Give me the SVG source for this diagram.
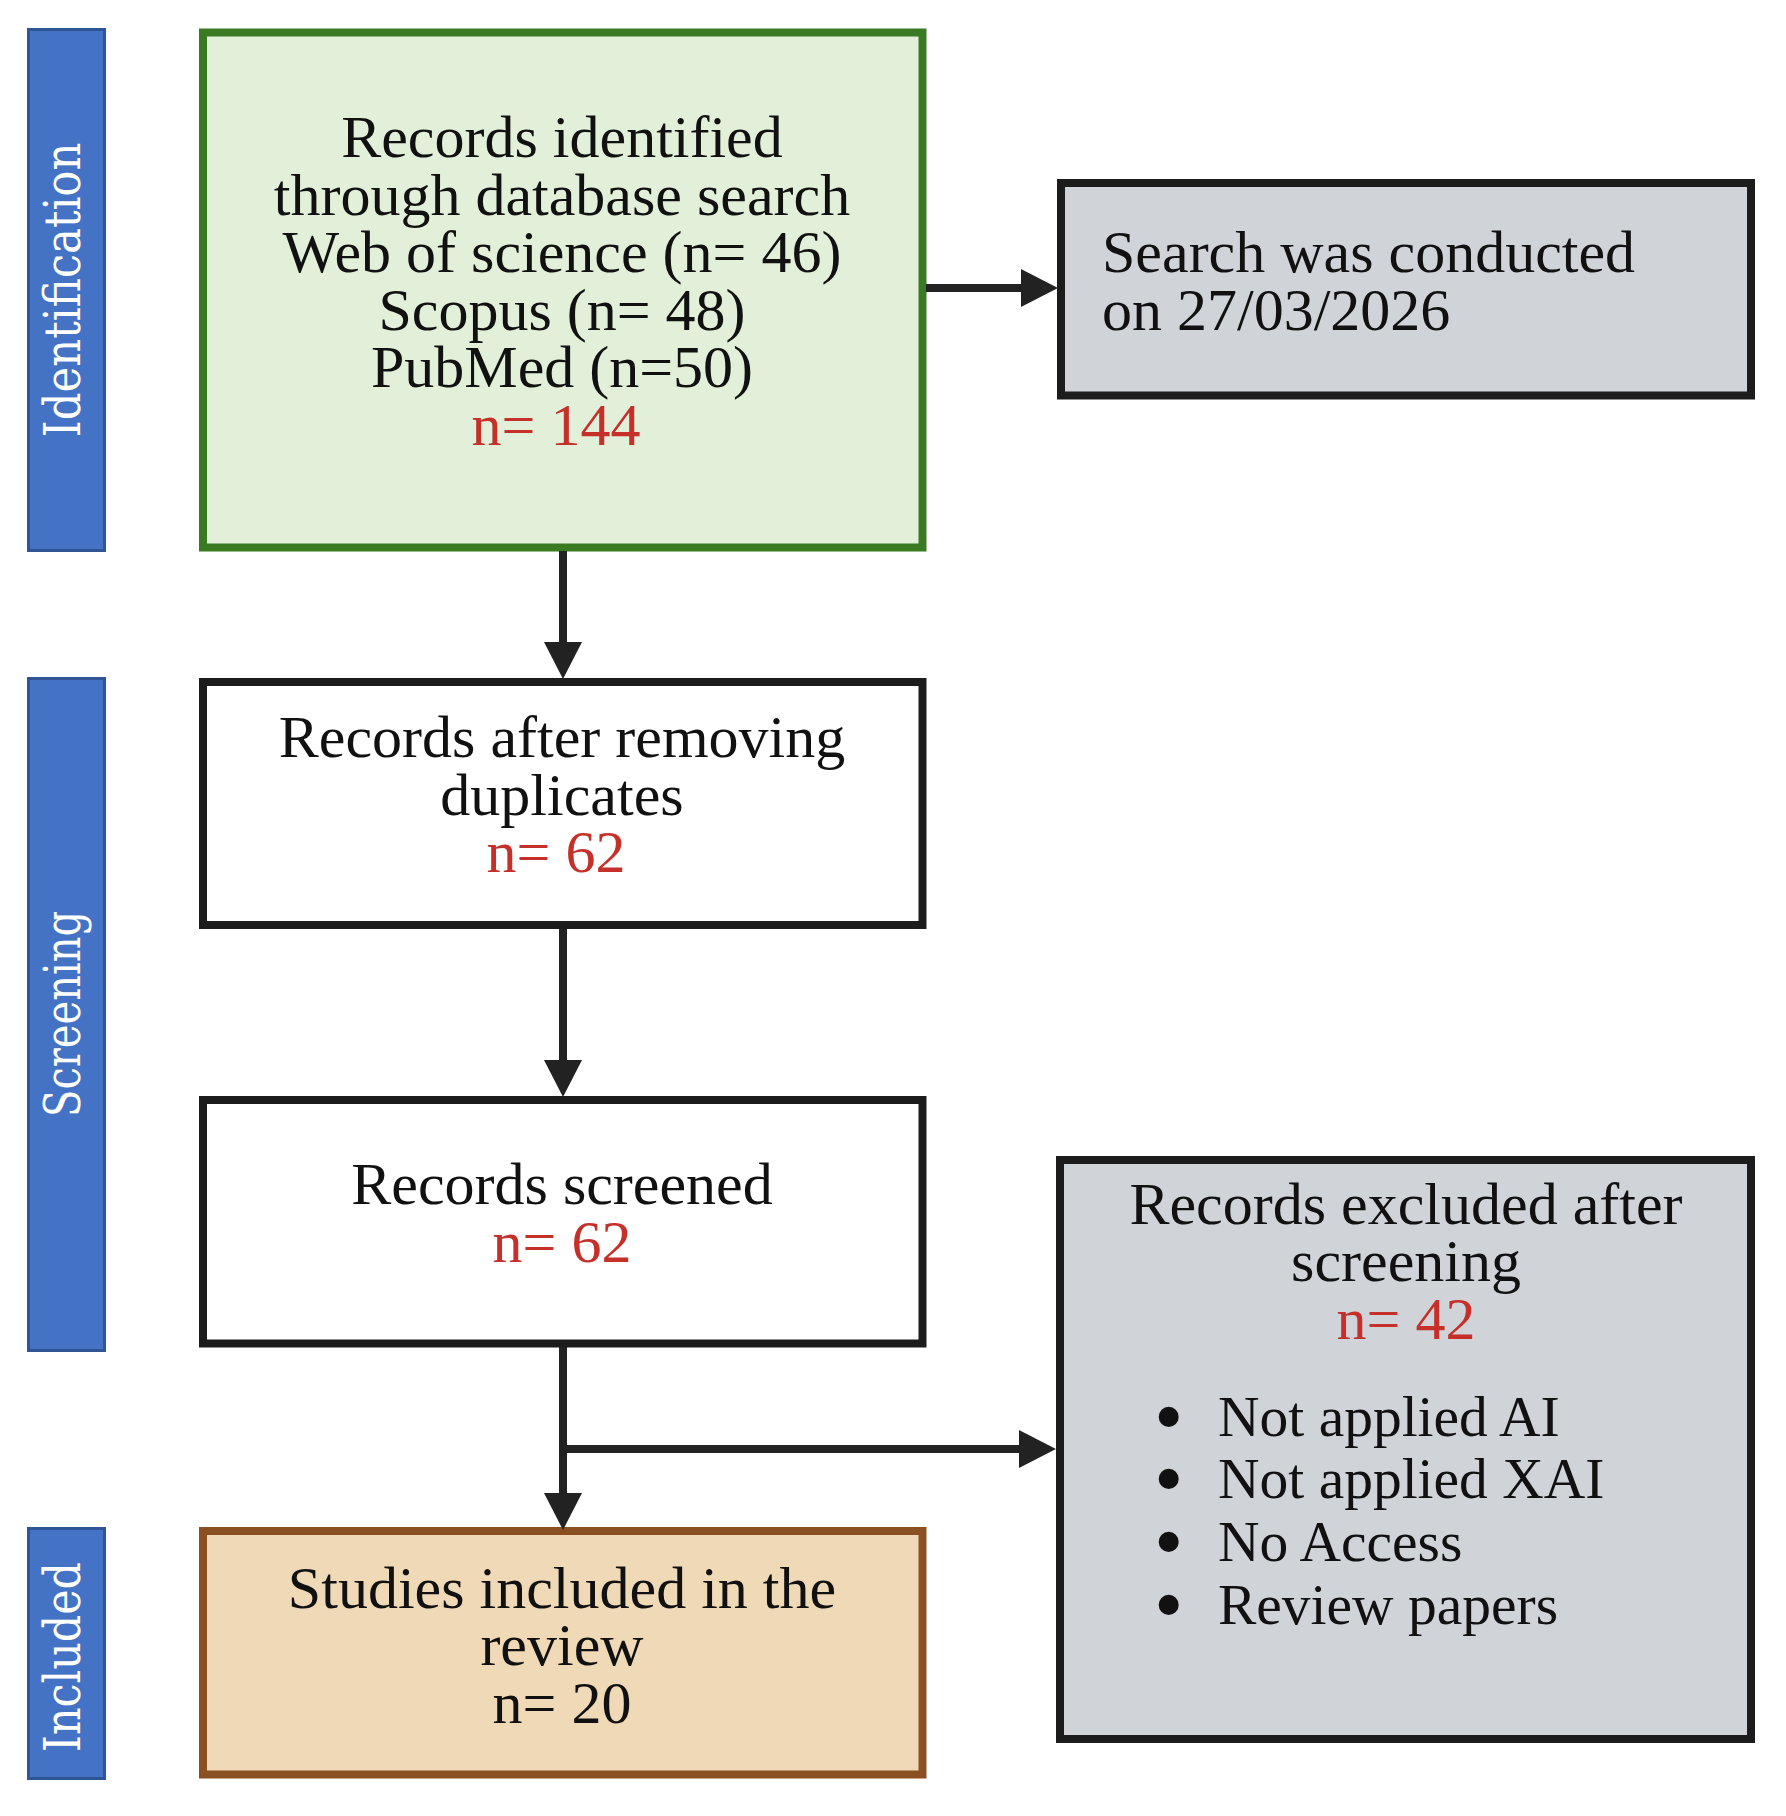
<svg xmlns="http://www.w3.org/2000/svg" width="1786" height="1816" viewBox="0 0 1786 1816">
<style>
.t{font-family:"Liberation Serif","Times New Roman",serif;font-size:60px;fill:#111;text-anchor:middle}
.tl{text-anchor:start}
.r{fill:#c5302b}
.b{font-size:57.5px}
.bu{font-size:84px}
.side{fill:#4472c4;stroke:#2f5597;stroke-width:3}
.sl{font-family:"DejaVu Serif",serif;font-size:50px;fill:#fff;text-anchor:middle}
.box{stroke-width:8;stroke-linejoin:miter}
.con{stroke:#222;stroke-width:8;fill:none}
</style>
<defs>
<marker id="ah" markerUnits="userSpaceOnUse" markerWidth="38" markerHeight="38" viewBox="0 0 36 37" refX="0" refY="18.5" orient="auto">
<path d="M0,0 L36,18.5 L0,37 Z" fill="#222"/>
</marker>
</defs>
<rect width="1786" height="1816" fill="#fff"/>
<g id="phase-identification">
<rect class="side" x="28.5" y="29.5" width="76" height="521"/>
<text class="sl" transform="translate(80,290) rotate(-90)" textLength="295" lengthAdjust="spacingAndGlyphs">Identification</text>
</g>
<g id="phase-screening">
<rect class="side" x="28.5" y="678.5" width="76" height="672"/>
<text class="sl" transform="translate(80,1014) rotate(-90)" textLength="206" lengthAdjust="spacingAndGlyphs">Screening</text>
</g>
<g id="phase-included">
<rect class="side" x="28.5" y="1528.5" width="76" height="250"/>
<text class="sl" transform="translate(80,1657) rotate(-90)" textLength="190" lengthAdjust="spacingAndGlyphs">Included</text>
</g>
<g id="records-identified">
<rect class="box" x="203" y="32.5" width="719.5" height="515" fill="#e2f0d9" stroke="#3a7a22"/>
<text class="t"><tspan x="562" y="157">Records identified</tspan><tspan x="562" y="214.5">through database search</tspan><tspan x="562" y="272">Web of science (n= 46)</tspan><tspan x="562" y="329.5">Scopus (n= 48)</tspan><tspan x="562" y="387">PubMed (n=50)</tspan><tspan class="r" x="556" y="444.5">n= 144</tspan></text>
</g>
<g id="search-date">
<rect class="box" x="1061" y="183" width="690" height="212.5" fill="#d0d4d9" stroke="#1c1c1c"/>
<text class="t tl"><tspan x="1102" y="272">Search was conducted</tspan><tspan x="1102" y="330">on 27/03/2026</tspan></text>
</g>
<g id="records-after-duplicates">
<rect class="box" x="203" y="682" width="719.5" height="243" fill="#fff" stroke="#1c1c1c"/>
<text class="t"><tspan x="562" y="757">Records after removing</tspan><tspan x="562" y="815">duplicates</tspan><tspan class="r" x="556" y="872">n= 62</tspan></text>
</g>
<g id="records-screened">
<rect class="box" x="203" y="1100" width="719.5" height="243.5" fill="#fff" stroke="#1c1c1c"/>
<text class="t"><tspan x="562" y="1204">Records screened</tspan><tspan class="r" x="562" y="1262">n= 62</tspan></text>
</g>
<g id="records-excluded">
<rect class="box" x="1060" y="1160" width="691" height="579" fill="#d0d4d9" stroke="#1c1c1c"/>
<text class="t"><tspan x="1406" y="1224">Records excluded after</tspan><tspan x="1406" y="1281">screening</tspan><tspan class="r" x="1406" y="1339">n= 42</tspan></text>
<text class="t tl b"><tspan class="bu" x="1154" y="1445">•</tspan><tspan x="1218" y="1436">Not applied AI</tspan><tspan class="bu" x="1154" y="1507">•</tspan><tspan x="1218" y="1498">Not applied XAI</tspan><tspan class="bu" x="1154" y="1570">•</tspan><tspan x="1218" y="1561">No Access</tspan><tspan class="bu" x="1154" y="1633">•</tspan><tspan x="1218" y="1624">Review papers</tspan></text>
</g>
<g id="studies-included">
<rect class="box" x="203" y="1531" width="719.5" height="243.5" fill="#f0d9b6" stroke="#8b5022"/>
<text class="t"><tspan x="562" y="1608">Studies included in the</tspan><tspan x="562" y="1665">review</tspan><tspan x="562" y="1723">n= 20</tspan></text>
</g>
<g id="connectors">
<path class="con" d="M563,551 V642" marker-end="url(#ah)"/>
<path class="con" d="M926,288 H1021" marker-end="url(#ah)"/>
<path class="con" d="M563,929 V1060" marker-end="url(#ah)"/>
<path class="con" d="M563,1347 V1493" marker-end="url(#ah)"/>
<path class="con" d="M559,1449 H1019" marker-end="url(#ah)"/>
</g>
</svg>
